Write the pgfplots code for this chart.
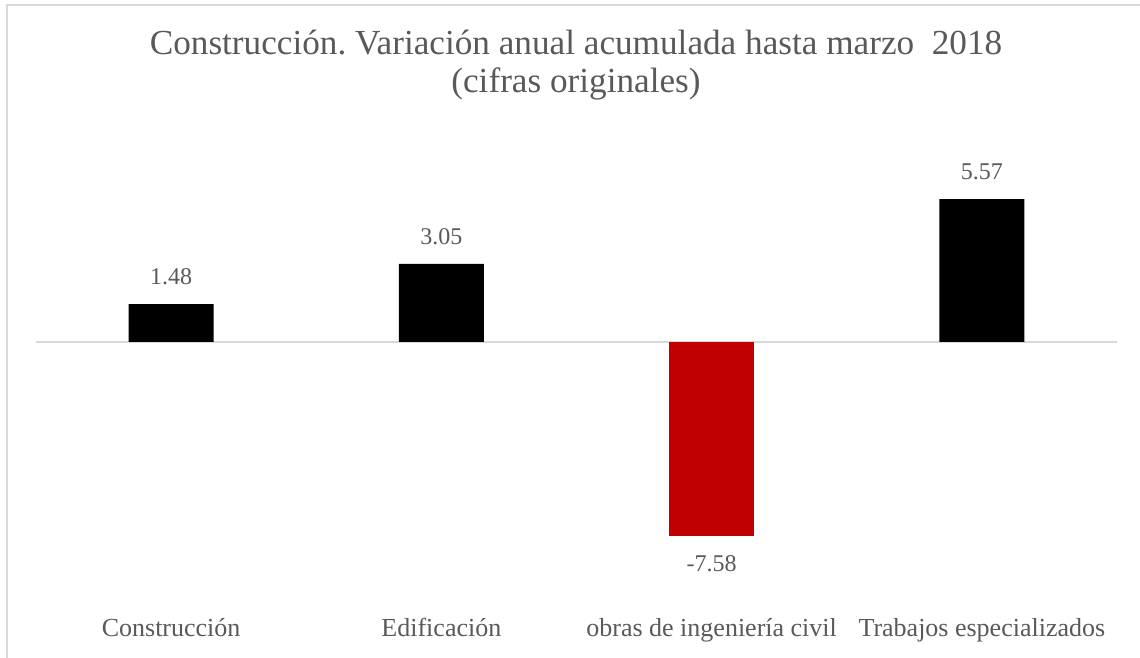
\documentclass[border=0pt]{standalone}
\usepackage{pgfplots}
\pgfplotsset{compat=1.18}
\usepackage{fontspec}
\setmainfont{Liberation Serif}
\definecolor{txt}{HTML}{595959}
\definecolor{gridc}{HTML}{D9D9D9}
\definecolor{barred}{HTML}{C00000}
\frenchspacing
\begin{document}
\begin{tikzpicture}
\useasboundingbox (0,0) rectangle (570pt,329pt);
\draw[gridc, line width=0.8pt] (3.5pt,-5pt) -- (3.5pt,326.5pt) -- (580pt,326.5pt);
\node[anchor=base, font=\fontsize{17.6}{20}\selectfont, text=txt, inner sep=0pt] at (288pt,301.5pt) {Construcción. Variación anual acumulada hasta marzo\ \ 2018};
\node[anchor=base, font=\fontsize{17.6}{20}\selectfont, text=txt, inner sep=0pt] at (288pt,282.5pt) {(cifras originales)};
\begin{axis}[
  at={(18pt,36.3pt)}, anchor=south west,
  scale only axis, width=540.5pt, height=205pt,
  xmin=-0.5, xmax=3.5, ymin=-9.5, ymax=6.5,
  clip=false,
  axis line style={draw=none},
  major tick length=0pt,
  ytick=\empty,
  xtick={0,1,2,3},
  xticklabels={Construcción, Edificación, obras de ingeniería civil, Trabajos especializados},
  xticklabel style={anchor=base, yshift=-25.4pt, font=\fontsize{13}{15}\selectfont, text=txt},
  extra y ticks={0},
  extra y tick labels={},
  extra y tick style={grid=major, major grid style={gridc, line width=0.8pt}},
  ybar, bar width=42.5pt, bar shift=0pt,
  nodes near coords={\pgfmathprintnumber[fixed,precision=2,zerofill,assume math mode=true]{\pgfplotspointmeta}},
  nodes near coords style={anchor=center, text=txt, font=\fontsize{12}{14}\selectfont},
]
\addplot[fill=black, draw=none, nodes near coords style={anchor=center, yshift=13.5pt}] coordinates {(0,1.48) (1,3.05) (3,5.57)};
\addplot[fill=barred, draw=none, nodes near coords style={anchor=center, yshift=-13.5pt}] coordinates {(2,-7.58)};
\end{axis}
\end{tikzpicture}
\end{document}
